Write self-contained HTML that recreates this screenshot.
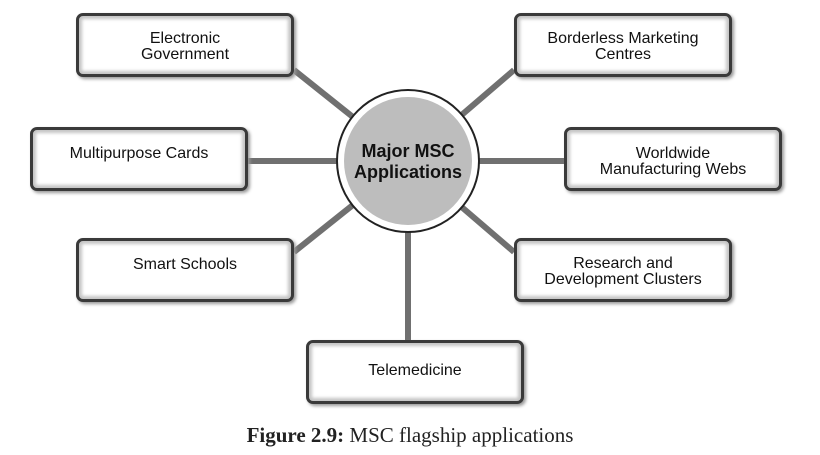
<!DOCTYPE html>
<html><head><style>
body{margin:0;width:820px;height:455px;background:#fff;overflow:hidden;position:relative;font-family:"Liberation Sans",sans-serif}
.b{position:absolute;width:212px;height:58px;border:3px solid #3a3a3a;border-radius:7px;background:#fff;box-shadow:inset 0 0 3px 3px #c4c4c4,2px 2px 3px #999;text-align:center;font-size:16px;line-height:16px;color:#111;box-sizing:content-box}
.b span{display:block;padding-top:14px}
.cap{position:absolute;top:423px;left:0;width:820px;text-align:center;font-family:"Liberation Serif",serif;font-size:21px;color:#222}
</style></head><body>
<svg width="820" height="455" style="position:absolute;left:0;top:0">
<g stroke="#707070" stroke-width="6">
<line x1="294" y1="70" x2="408" y2="161"/>
<line x1="248" y1="161" x2="408" y2="161"/>
<line x1="294" y1="252" x2="408" y2="161"/>
<line x1="408" y1="340" x2="408" y2="161"/>
<line x1="514" y1="252" x2="408" y2="161"/>
<line x1="564" y1="161" x2="408" y2="161"/>
<line x1="514" y1="70" x2="408" y2="161"/>
</g>
<circle cx="408" cy="161" r="71" fill="#fff" stroke="#222" stroke-width="2"/>
<circle cx="408" cy="161" r="64" fill="#bdbdbd"/>
<text x="408" y="157" text-anchor="middle" font-family="Liberation Sans" font-weight="bold" font-size="18" fill="#111">Major MSC</text>
<text x="408" y="178" text-anchor="middle" font-family="Liberation Sans" font-weight="bold" font-size="18" fill="#111">Applications</text>
</svg>
<div class="b" style="left:76px;top:13px"><span style="padding-top:15px">Electronic<br>Government</span></div>
<div class="b" style="left:30px;top:127px"><span style="padding-top:16px">Multipurpose Cards</span></div>
<div class="b" style="left:76px;top:238px"><span style="padding-top:16px">Smart Schools</span></div>
<div class="b" style="left:306px;top:340px"><span style="padding-top:20px">Telemedicine</span></div>
<div class="b" style="left:514px;top:238px"><span style="padding-top:15px">Research and<br>Development Clusters</span></div>
<div class="b" style="left:564px;top:127px"><span style="padding-top:16px">Worldwide<br>Manufacturing Webs</span></div>
<div class="b" style="left:514px;top:13px"><span style="padding-top:15px">Borderless Marketing<br>Centres</span></div>
<div class="cap"><b>Figure 2.9:</b> MSC flagship applications</div>
</body></html>
